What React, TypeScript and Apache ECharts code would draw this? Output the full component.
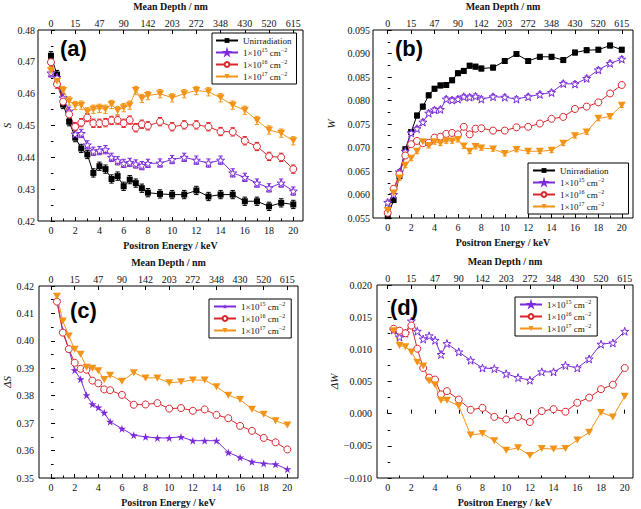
import React, { useEffect, useRef } from 'react';
import * as echarts from 'echarts';

// ---------- data ----------
const ENERGY_AB = [0, 0.5, 1, 1.5, 2, 2.5, 3, 3.5, 4, 4.5, 5, 5.5, 6, 6.5, 7, 7.5, 8, 9, 10, 11, 12, 13, 14, 15, 16, 17, 18, 19, 20];
const ENERGY_CD = [0.5, 1, 1.5, 2, 2.5, 3, 3.5, 4, 4.5, 5, 6, 7, 8, 9, 10, 11, 12, 13, 14, 15, 16, 17, 18, 19, 20];

const DEPTH_TICK_ENERGY = [0, 2, 4, 6, 8, 10, 12, 14, 16, 18, 20];
const DEPTH_LABELS = ['0', '15', '47', '90', '142', '203', '272', '348', '430', '520', '615'];
const ENERGY_TICKS = [0, 2, 4, 6, 8, 10, 12, 14, 16, 18, 20];
const ENERGY_MINOR_TICKS = [1, 3, 5, 7, 9, 11, 13, 15, 17, 19];

const S_UNIRR = [0.4719, 0.466, 0.4566, 0.4512, 0.4462, 0.4428, 0.4409, 0.4351, 0.4372, 0.4363, 0.4332, 0.4341, 0.4309, 0.433, 0.4319, 0.4303, 0.4289, 0.4285, 0.4283, 0.4283, 0.4296, 0.4277, 0.4283, 0.4283, 0.4262, 0.4262, 0.4246, 0.4257, 0.4252];
const S_1E15 = [0.4665, 0.4651, 0.4587, 0.4545, 0.4473, 0.4475, 0.4439, 0.4419, 0.4421, 0.4424, 0.44, 0.4389, 0.4381, 0.4384, 0.4379, 0.4374, 0.4381, 0.4382, 0.4393, 0.44, 0.4391, 0.4382, 0.4391, 0.4351, 0.4337, 0.4319, 0.4304, 0.4319, 0.4294];
const S_1E16 = [0.4699, 0.463, 0.4575, 0.4535, 0.4496, 0.4509, 0.4525, 0.4507, 0.4507, 0.4509, 0.4516, 0.4517, 0.4507, 0.4517, 0.4493, 0.4504, 0.4499, 0.4512, 0.4496, 0.4502, 0.4502, 0.4496, 0.4481, 0.448, 0.4452, 0.4434, 0.4403, 0.44, 0.4363];
const S_1E17 = [0.4672, 0.4639, 0.461, 0.4577, 0.4563, 0.4564, 0.4543, 0.4551, 0.4554, 0.4551, 0.4566, 0.4547, 0.4556, 0.4564, 0.461, 0.4585, 0.4594, 0.46, 0.4587, 0.46, 0.461, 0.4606, 0.4587, 0.4564, 0.4548, 0.4516, 0.4486, 0.4476, 0.4452];

const W_UNIRR = [0.0554, 0.0588, 0.0639, 0.0696, 0.0733, 0.0768, 0.0787, 0.0811, 0.0825, 0.0832, 0.0833, 0.0843, 0.0858, 0.0863, 0.0874, 0.0872, 0.0868, 0.087, 0.0884, 0.0899, 0.0884, 0.0893, 0.0893, 0.0886, 0.0902, 0.0907, 0.0908, 0.0917, 0.0908];
const W_1E15 = [0.0583, 0.06, 0.0648, 0.0692, 0.0731, 0.074, 0.0754, 0.0773, 0.078, 0.0781, 0.0803, 0.0801, 0.0803, 0.0808, 0.0807, 0.0809, 0.0803, 0.0808, 0.0807, 0.0803, 0.0808, 0.0813, 0.0817, 0.0836, 0.0835, 0.0847, 0.0865, 0.0879, 0.0888];
const W_1E16 = [0.0561, 0.0612, 0.0643, 0.0683, 0.0707, 0.0714, 0.0709, 0.071, 0.0721, 0.0723, 0.0729, 0.0731, 0.0728, 0.0744, 0.0728, 0.074, 0.0741, 0.0736, 0.0736, 0.0743, 0.0744, 0.0751, 0.0761, 0.0765, 0.0782, 0.0787, 0.0796, 0.0815, 0.0833];
const W_1E17 = [0.0566, 0.0603, 0.0635, 0.0662, 0.0677, 0.0692, 0.0712, 0.0704, 0.0712, 0.0709, 0.0714, 0.0714, 0.0717, 0.0703, 0.0692, 0.0702, 0.0699, 0.0697, 0.0687, 0.0696, 0.0692, 0.0692, 0.0694, 0.0709, 0.0725, 0.0733, 0.0762, 0.0766, 0.079];

const ERR_S = 0.0013;
const ERR_W = 0.0005;

const DS_1E15 = [0.4149, 0.4037, 0.397, 0.3893, 0.386, 0.3802, 0.3769, 0.3757, 0.3738, 0.3705, 0.368, 0.3656, 0.365, 0.3646, 0.3646, 0.365, 0.3636, 0.3636, 0.3636, 0.3593, 0.3575, 0.3559, 0.3553, 0.355, 0.3532];
const DS_1E16 = [0.4143, 0.403, 0.397, 0.392, 0.3898, 0.3895, 0.3855, 0.3845, 0.3823, 0.382, 0.3803, 0.3767, 0.3768, 0.3773, 0.3753, 0.3755, 0.3745, 0.375, 0.373, 0.3718, 0.369, 0.3672, 0.3646, 0.363, 0.3604];
const DS_1E17 = [0.4163, 0.4072, 0.4018, 0.3969, 0.3951, 0.3904, 0.39, 0.3891, 0.3859, 0.3875, 0.3853, 0.3884, 0.3865, 0.3865, 0.3847, 0.3851, 0.3857, 0.3857, 0.3833, 0.3802, 0.3786, 0.3751, 0.3732, 0.3709, 0.3693];

const DW_1E15 = [0.013, 0.0119, 0.0125, 0.0144, 0.0128, 0.0116, 0.0121, 0.0114, 0.0092, 0.0109, 0.0096, 0.0083, 0.0071, 0.007, 0.0062, 0.0056, 0.0052, 0.0065, 0.0065, 0.0075, 0.0071, 0.0085, 0.0108, 0.011, 0.0128];
const DW_1E16 = [0.0132, 0.0129, 0.0125, 0.0137, 0.0101, 0.0071, 0.0056, 0.0053, 0.003, 0.0035, 0.0022, 0.0006, 0.0009, -0.0005, -0.0009, -0.0005, -0.0013, 0.0004, 0.0007, 0.0003, 0.0017, 0.0025, 0.0038, 0.0045, 0.0071];
const DW_1E17 = [0.0129, 0.0106, 0.0104, 0.0096, 0.008, 0.0074, 0.0051, 0.0045, 0.0021, 0.0021, 0.0012, -0.0033, -0.0031, -0.0042, -0.0057, -0.0053, -0.0065, -0.0054, -0.0055, -0.0054, -0.0041, -0.0029, 0.0002, -0.0005, 0.0027];

const LEGEND_TEXT: Record<string, string> = {
  u: 'Unirradiation',
  p: '1×10{sup|15} cm{sup|−2}',
  r: '1×10{sup|16} cm{sup|−2}',
  o: '1×10{sup|17} cm{sup|−2}',
};

// ---------- styling ----------
const SERIF = 'Liberation Serif';
const C = { u: '#000000', p: '#7B2BD9', r: '#D8262B', o: '#F39419' };
const STAR = 'path://M100,0 L122,69 L195,69 L136,112 L159,181 L100,138 L41,181 L64,112 L5,69 L78,69 Z';
const TRI_DOWN = 'path://M0,0 L100,0 L50,87 Z';

type SeriesDef = { key: 'u' | 'p' | 'r' | 'o'; values: number[]; hollow: boolean; err?: number };

const PANELS = [
  {
    tag: 'a', label: '(a)', yName: 'S', yMin: 0.42, yMax: 0.48, yInt: 0.01, dec: 2,
    grid: { left: 38, top: 28, width: 265, height: 193 }, xr: [-1.07, 20.8], energy: ENERGY_AB,
    yGap: 26, yMargin: 3,
    legend: { left: 212, top: 33, padding: [2, 5, 2, 3] },
    labelPos: [60, 37],
    series: [
      { key: 'u', values: S_UNIRR, hollow: false, err: ERR_S },
      { key: 'p', values: S_1E15, hollow: true, err: ERR_S },
      { key: 'r', values: S_1E16, hollow: true, err: ERR_S },
      { key: 'o', values: S_1E17, hollow: false, err: ERR_S },
    ] as SeriesDef[],
  },
  {
    tag: 'b', label: '(b)', yName: 'W', yMin: 0.055, yMax: 0.095, yInt: 0.005, dec: 3,
    grid: { left: 373, top: 30, width: 260, height: 188 }, xr: [-1.26, 20.96], energy: ENERGY_AB,
    yGap: 37, yMargin: 3,
    legend: { left: 528, top: 163, padding: [2, 20, 2, 4] },
    labelPos: [395, 37],
    series: [
      { key: 'u', values: W_UNIRR, hollow: false, err: ERR_W },
      { key: 'p', values: W_1E15, hollow: true, err: ERR_W },
      { key: 'r', values: W_1E16, hollow: true, err: ERR_W },
      { key: 'o', values: W_1E17, hollow: false, err: ERR_W },
    ] as SeriesDef[],
  },
  {
    tag: 'c', label: '(c)', yName: 'ΔS', yMin: 0.35, yMax: 0.42, yInt: 0.01, dec: 2,
    grid: { left: 39, top: 286, width: 259, height: 192 }, xr: [-1.02, 20.9], energy: ENERGY_CD,
    yGap: 27, yMargin: 5,
    legend: { left: 209, top: 299, padding: [2, 6, 2, 4] },
    labelPos: [70, 299],
    series: [
      { key: 'p', values: DS_1E15, hollow: false },
      { key: 'r', values: DS_1E16, hollow: true },
      { key: 'o', values: DS_1E17, hollow: false },
    ] as SeriesDef[],
  },
  {
    tag: 'd', label: '(d)', yName: 'ΔW', yMin: -0.01, yMax: 0.02, yInt: 0.005, dec: 3,
    grid: { left: 377, top: 285, width: 256, height: 193 }, xr: [-0.9, 20.7], energy: ENERGY_CD,
    yGap: 36, yMargin: 5,
    legend: { left: 515, top: 297, padding: [2, 6, 2, 4] },
    labelPos: [390, 296],
    series: [
      { key: 'p', values: DW_1E15, hollow: true },
      { key: 'r', values: DW_1E16, hollow: true },
      { key: 'o', values: DW_1E17, hollow: false },
    ] as SeriesDef[],
  },
];

function symbolFor(key: string) {
  if (key === 'u') return 'rect';
  if (key === 'p') return STAR;
  if (key === 'r') return 'circle';
  return TRI_DOWN;
}
function symbolSizeFor(key: string): any {
  if (key === 'u') return 6;
  if (key === 'p') return 8;
  if (key === 'r') return 7;
  return [8, 7];
}

function buildOption() {
  const grid: any[] = [];
  const xAxis: any[] = [];
  const yAxis: any[] = [];
  const series: any[] = [];
  const legend: any[] = [];
  const graphic: any[] = [];
  const tickStyle = { color: '#000', width: 1 };
  const labelStyle = { fontFamily: SERIF, fontSize: 10, color: '#111' };
  const nameStyle = { fontFamily: SERIF, fontSize: 10, fontWeight: 'bold' as const, color: '#111' };

  PANELS.forEach((p, i) => {
    grid.push({ ...p.grid, show: true, borderColor: '#000', borderWidth: 1, backgroundColor: 'transparent' });
    xAxis.push({
      type: 'value', gridIndex: i, position: 'bottom', min: p.xr[0], max: p.xr[1],
      axisLine: { show: false }, splitLine: { show: false },
      axisTick: { show: true, inside: true, length: 4, customValues: ENERGY_TICKS, lineStyle: tickStyle },
      axisLabel: { customValues: ENERGY_TICKS, margin: 4, ...labelStyle },
      name: 'Positron Energy / keV', nameLocation: 'middle', nameGap: 19, nameTextStyle: nameStyle,
    });
    xAxis.push({
      type: 'value', gridIndex: i, position: 'top', min: p.xr[0], max: p.xr[1],
      axisLine: { show: false }, splitLine: { show: false },
      axisTick: { show: true, inside: true, length: 4, customValues: DEPTH_TICK_ENERGY, lineStyle: tickStyle },
      axisLabel: {
        customValues: DEPTH_TICK_ENERGY, margin: 2, ...labelStyle,
        formatter: (v: number) => DEPTH_LABELS[DEPTH_TICK_ENERGY.indexOf(Math.round(v))] ?? '',
      },
      name: 'Mean Depth / nm', nameLocation: 'middle', nameGap: 19, nameTextStyle: nameStyle,
    });
    xAxis.push({
      type: 'value', gridIndex: i, position: 'bottom', min: p.xr[0], max: p.xr[1],
      axisLine: { show: false }, splitLine: { show: false },
      axisTick: { show: true, inside: true, length: 2.5, customValues: ENERGY_MINOR_TICKS, lineStyle: tickStyle },
      axisLabel: { show: false },
    });
    yAxis.push({
      type: 'value', gridIndex: i, min: p.yMin, max: p.yMax, interval: p.yInt,
      axisLine: { show: false }, splitLine: { show: false },
      axisTick: { show: true, inside: true, length: 4, lineStyle: tickStyle },
      minorTick: { show: true, splitNumber: 2, length: 2.5, lineStyle: tickStyle },
      axisLabel: { margin: p.yMargin, ...labelStyle, formatter: (v: number) => v.toFixed(p.dec).replace('-', '−') },
      name: p.yName, nameLocation: 'middle', nameGap: p.yGap,
      nameTextStyle: { fontFamily: SERIF, fontSize: 11, fontStyle: 'italic', color: '#111' },
    });

    const names: string[] = [];
    p.series.forEach((s) => {
      const name = p.tag + s.key;
      names.push(name);
      const color = (C as any)[s.key];
      if (s.err !== undefined) {
        const e = s.err;
        series.push({
          type: 'custom', name: name + '_err', xAxisIndex: i * 3, yAxisIndex: i, silent: true, z: 1,
          data: p.energy.map((x, k) => [x, s.values[k], e]),
          encode: { x: 0, y: 1 },
          renderItem: (_params: any, api: any) => {
            const x = api.value(0);
            const y = api.value(1);
            const ev = api.value(2);
            const p1 = api.coord([x, y + ev]);
            const p2 = api.coord([x, y - ev]);
            const hw = 2.2;
            const st = { stroke: color, lineWidth: 1 };
            return {
              type: 'group',
              children: [
                { type: 'line', shape: { x1: p1[0], y1: p1[1], x2: p2[0], y2: p2[1] }, style: st },
                { type: 'line', shape: { x1: p1[0] - hw, y1: p1[1], x2: p1[0] + hw, y2: p1[1] }, style: st },
                { type: 'line', shape: { x1: p2[0] - hw, y1: p2[1], x2: p2[0] + hw, y2: p2[1] }, style: st },
              ],
            };
          },
        });
      }
      series.push({
        type: 'line', name, xAxisIndex: i * 3, yAxisIndex: i, z: 3,
        data: p.energy.map((x, k) => [x, s.values[k]]),
        symbol: symbolFor(s.key), symbolSize: symbolSizeFor(s.key), showAllSymbol: true,
        lineStyle: { color, width: 1 },
        itemStyle: s.hollow ? { color: '#ffffff', borderColor: color, borderWidth: 1 } : { color, borderColor: color, borderWidth: 0 },
        emphasis: { disabled: true },
      });
    });

    legend.push({
      orient: 'vertical', left: p.legend.left, top: p.legend.top, padding: p.legend.padding,
      borderColor: '#000', borderWidth: 1, backgroundColor: '#fff',
      itemWidth: 22, itemHeight: 6, itemGap: 1, selectedMode: false,
      data: names,
      formatter: (n: string) => LEGEND_TEXT[n.slice(1)],
      textStyle: {
        fontFamily: SERIF, fontSize: 9, color: '#111', lineHeight: 11,
        rich: { sup: { fontFamily: SERIF, fontSize: 6, verticalAlign: 'top', lineHeight: 8, color: '#111' } },
      },
    });

    graphic.push({
      type: 'text', left: p.labelPos[0], top: p.labelPos[1], z: 10,
      style: { text: p.label, font: 'bold 22px "Liberation Sans"', fill: '#000' },
    });
  });

  return { animation: false, backgroundColor: '#fff', grid, xAxis, yAxis, series, legend, graphic };
}

export default function App() {
  const ref = useRef<HTMLDivElement>(null);
  useEffect(() => {
    if (!ref.current) return;
    const chart = echarts.init(ref.current, undefined, { renderer: 'svg' });
    chart.setOption(buildOption() as any);
    return () => chart.dispose();
  }, []);
  return (
    <div
      ref={ref}
      style={{ position: 'fixed', left: 0, top: 0, width: 641, height: 509, background: '#fff' }}
    />
  );
}
